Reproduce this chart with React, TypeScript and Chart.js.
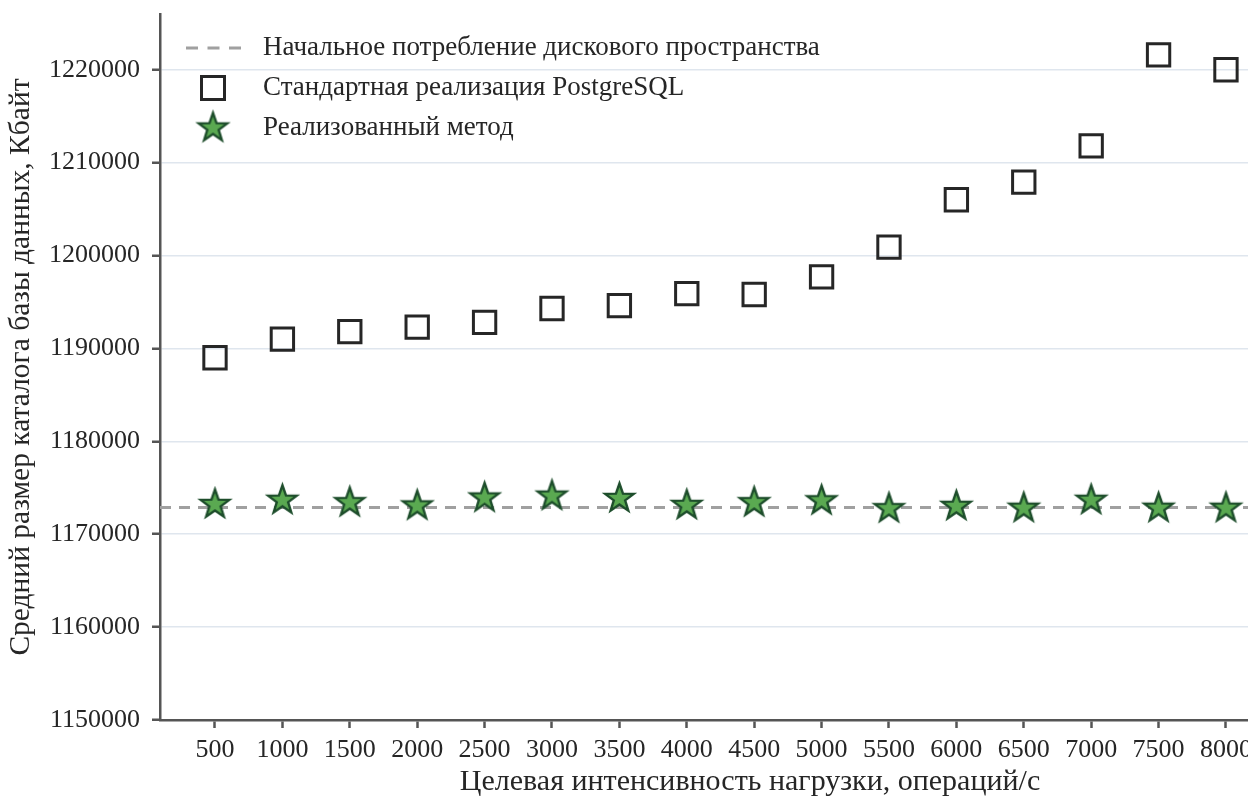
import { useEffect, useRef } from "react";
import { Chart, registerables } from "chart.js";

Chart.register(...registerables);

// Target load, operations per second
const loadRates = [500, 1000, 1500, 2000, 2500, 3000, 3500, 4000, 4500, 5000, 5500, 6000, 6500, 7000, 7500, 8000];

// Average database directory size, KB — stock PostgreSQL
const postgresSizes = [
  1189000, 1191000, 1191800, 1192300, 1192800, 1194300, 1194600, 1195900,
  1195800, 1197700, 1200900, 1206000, 1207900, 1211800, 1221600, 1220000,
];

// Average database directory size, KB — implemented method
const methodSizes = [
  1173200, 1173650, 1173400, 1173050, 1173900, 1174100, 1173850, 1173100,
  1173400, 1173600, 1172750, 1173000, 1172800, 1173650, 1172800, 1172800,
];

// Initial disk usage (reference level)
const initialSize = 1172880;

const yTicks = [1150000, 1160000, 1170000, 1180000, 1190000, 1200000, 1210000, 1220000];
const yMin = 1150000;
const yMax = 1226000;
const xMin = 92;
const xMax = 8846;

const seriesLabels = [
  "Начальное потребление дискового пространства",
  "Стандартная реализация PostgreSQL",
  "Реализованный метод",
];
const xTitle = "Целевая интенсивность нагрузки, операций/с";
const yTitle = "Средний размер каталога базы данных, Кбайт";

const FONT = "'Liberation Serif', 'Times New Roman', serif";
const TEXT = "#262626";
const AXIS = "#555555";
const GRID = "#dfe6ee";
const STAR_FILL = "#5aa951";
const STAR_EDGE = "#1d4d2b";
const SQUARE_EDGE = "#262626";
const DASH_COLOR = "#a0a0a0";
const DASH = [11, 8];

function makeStar(outer: number, fill: string, edge: string, lw: number): HTMLCanvasElement {
  const pad = lw + 2;
  const size = Math.ceil(2 * (outer + pad));
  const c = document.createElement("canvas");
  c.width = size;
  c.height = size;
  const g = c.getContext("2d")!;
  const cx = size / 2;
  const cy = size / 2;
  const inner = outer * 0.4;
  g.beginPath();
  for (let i = 0; i < 10; i++) {
    const r = i % 2 === 0 ? outer : inner;
    const a = -Math.PI / 2 + (i * Math.PI) / 5;
    const px = cx + r * Math.cos(a);
    const py = cy + r * Math.sin(a);
    if (i === 0) g.moveTo(px, py);
    else g.lineTo(px, py);
  }
  g.closePath();
  g.fillStyle = fill;
  g.fill();
  g.lineWidth = lw;
  g.lineJoin = "miter";
  g.strokeStyle = edge;
  g.stroke();
  return c;
}

// Legend drawn in the upper-left corner of the plot area
function makeCornerLegend(star: HTMLCanvasElement) {
  return {
    id: "cornerLegend",
    afterDraw(chart: any) {
      const { ctx, chartArea } = chart;
      const symX = chartArea.left + 53;
      const textX = chartArea.left + 103;
      const rows = [chartArea.top + 34, chartArea.top + 74, chartArea.top + 114];
      ctx.save();
      // dashed line
      ctx.beginPath();
      ctx.setLineDash([12, 9.5]);
      ctx.lineWidth = 3;
      ctx.strokeStyle = DASH_COLOR;
      ctx.moveTo(symX - 27, rows[0]);
      ctx.lineTo(symX + 28, rows[0]);
      ctx.stroke();
      ctx.setLineDash([]);
      // square
      ctx.lineWidth = 3;
      ctx.strokeStyle = SQUARE_EDGE;
      ctx.strokeRect(symX - 11.5, rows[1] - 11.5, 23, 23);
      // star
      ctx.drawImage(star, symX - star.width / 2, rows[2] - star.height / 2);
      // labels
      ctx.fillStyle = TEXT;
      ctx.font = `27px ${FONT}`;
      ctx.textBaseline = "middle";
      ctx.textAlign = "left";
      seriesLabels.forEach((t, i) => ctx.fillText(t, textX, rows[i]));
      ctx.restore();
    },
  };
}

export default function App() {
  const ref = useRef<HTMLCanvasElement | null>(null);

  useEffect(() => {
    if (!ref.current) return;
    const starImage = makeStar(15, STAR_FILL, STAR_EDGE, 2.4);

    const chart = new Chart(ref.current, {
      type: "scatter",
      data: {
        datasets: [
          {
            label: seriesLabels[2],
            data: loadRates.map((x, i) => ({ x, y: methodSizes[i] })),
            pointStyle: starImage as any,
            pointRadius: 16,
            order: 1,
          },
          {
            label: seriesLabels[1],
            data: loadRates.map((x, i) => ({ x, y: postgresSizes[i] })),
            pointStyle: "rect",
            pointRadius: 15.8,
            borderWidth: 3,
            borderColor: SQUARE_EDGE,
            backgroundColor: "rgba(0,0,0,0)",
            order: 2,
          },
          {
            label: seriesLabels[0],
            data: [
              { x: xMin, y: initialSize },
              { x: xMax, y: initialSize },
            ],
            showLine: true,
            borderDash: DASH,
            borderColor: DASH_COLOR,
            borderWidth: 3,
            pointRadius: 0,
            order: 3,
          },
        ],
      },
      options: {
        responsive: false,
        animation: false,
        devicePixelRatio: 1,
        layout: { autoPadding: false, padding: { top: 14, right: 0, bottom: 0, left: 0 } },
        plugins: {
          legend: { display: false },
          tooltip: { enabled: false },
        },
        scales: {
          x: {
            type: "linear",
            min: xMin,
            max: xMax,
            afterBuildTicks: (s: any) => {
              s.ticks = loadRates.map((v) => ({ value: v }));
            },
            afterFit: (s: any) => {
              s.height = 80;
              s.paddingLeft = 0;
              s.paddingRight = 0;
            },
            grid: {
              drawOnChartArea: false,
              tickColor: AXIS,
              tickLength: 8,
              tickWidth: 2.5,
            },
            border: { color: AXIS, width: 2.5 },
            ticks: {
              font: { family: FONT, size: 26 },
              color: TEXT,
              padding: 7,
              maxRotation: 0,
              autoSkip: false,
              callback: (v: any) => String(v),
            },
            title: {
              display: true,
              text: xTitle,
              font: { family: FONT, size: 30 },
              color: TEXT,
              padding: { top: 0, bottom: 0 },
            },
          },
          y: {
            type: "linear",
            min: yMin,
            max: yMax,
            afterBuildTicks: (s: any) => {
              s.ticks = yTicks.map((v) => ({ value: v }));
            },
            afterFit: (s: any) => {
              s.width = 160;
              s.paddingTop = 0;
              s.paddingBottom = 0;
            },
            grid: {
              color: GRID,
              lineWidth: 1.5,
              tickColor: AXIS,
              tickLength: 8,
              tickWidth: 2.5,
            },
            border: { color: AXIS, width: 2.5 },
            ticks: {
              font: { family: FONT, size: 26 },
              color: TEXT,
              padding: 12,
              callback: (v: any) => String(v),
            },
            title: {
              display: true,
              text: yTitle,
              font: { family: FONT, size: 29.5 },
              color: TEXT,
              padding: { top: 4, bottom: 0 },
            },
          },
        },
      },
      plugins: [makeCornerLegend(starImage)],
    });

    return () => chart.destroy();
  }, []);

  return (
    <div
      style={{
        position: "fixed",
        left: 0,
        top: 0,
        width: 1248,
        height: 800,
        overflow: "hidden",
        background: "#ffffff",
      }}
    >
      <canvas ref={ref} width={1340} height={800} style={{ display: "block" }} />
    </div>
  );
}
